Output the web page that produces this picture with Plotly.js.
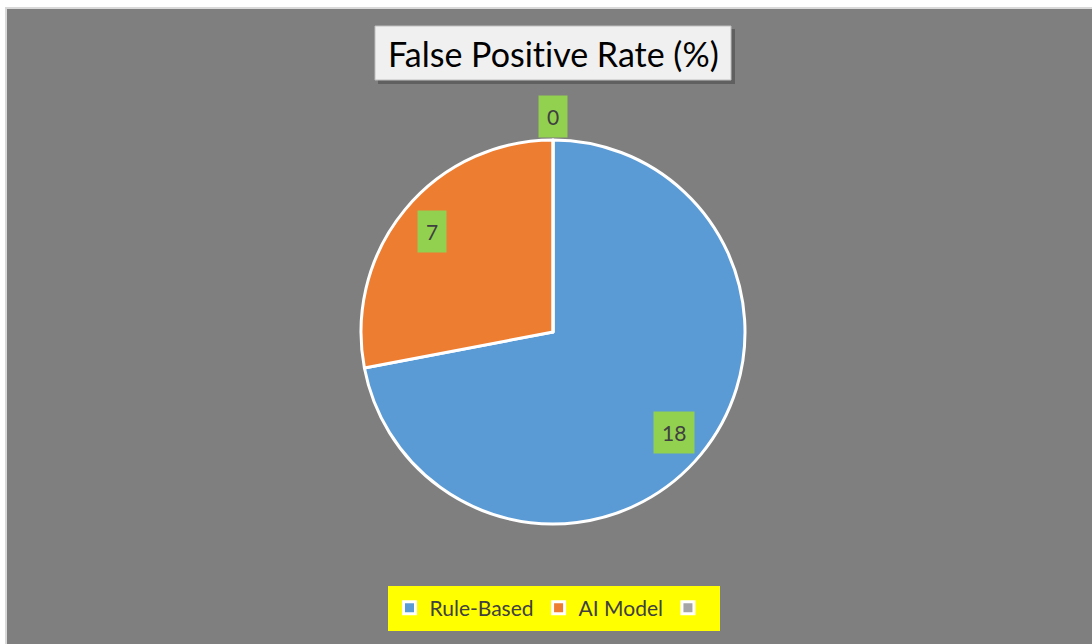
<!DOCTYPE html>
<html>
<head>
<meta charset="utf-8">
<script src="https://cdn.plot.ly/plotly-3.0.1.min.js"></script>
<style>html,body{margin:0;padding:0;background:#fff;}#chart{width:1092px;height:644px;}
svg text{font-variant-ligatures:none;font-feature-settings:"liga" 0;}</style>
</head>
<body>
<div id="chart"></div>
<script>
const categories = ['Rule-Based', 'AI Model', ' '];
const values = [18, 7, 0];
const sliceColors = ['#5b9bd5', '#ed7d31', '#a5a5a5'];
const titleText = 'False Positive Rate (%)';

const W = 1092, H = 644;
const cx = 553, cy = 332, R = 192;
const FONT = 'Lato, "Open Sans", sans-serif';

const trace = {
  type: 'pie',
  labels: categories,
  values: values,
  sort: false,
  direction: 'clockwise',
  rotation: 0,
  textinfo: 'none',
  hoverinfo: 'label+value',
  marker: {colors: sliceColors, line: {color: '#ffffff', width: 3}},
  domain: {x: [(cx - R) / W, (cx + R) / W], y: [(H - cy - R) / H, (H - cy + R) / H]},
  showlegend: true
};

// data labels: placed along each slice's mid-angle
const total = values.reduce((a, b) => a + b, 0);
let cum = 0;
const labelAnn = values.map((v, i) => {
  const mid = (cum + v / 2) / total * 2 * Math.PI;
  cum += v;
  const f = v === 0 ? 1.12 : 0.82;
  const x = cx + Math.sin(mid) * R * f;
  const y = cy - Math.cos(mid) * R * f;
  return {
    xref: 'paper', yref: 'paper', x: x / W, y: 1 - y / H,
    xanchor: 'center', yanchor: 'middle', showarrow: false,
    text: String(v), bgcolor: '#92d050', borderpad: 8,
    font: {family: FONT, size: 21, color: '#404040'}
  };
});

const px = x => x / W, py = y => 1 - y / H;

const layout = {
  width: W, height: H,
  margin: {l: 0, r: 0, t: 0, b: 0},
  paper_bgcolor: '#ffffff',
  shapes: [
    {type: 'rect', xref: 'paper', yref: 'paper', x0: px(6), x1: 1.01, y0: -0.01, y1: py(8),
     fillcolor: '#7f7f7f', line: {color: '#d9d9d9', width: 2}, layer: 'below'},
    // title shadow
    {type: 'rect', xref: 'paper', yref: 'paper', x0: px(378), x1: px(735), y0: py(84), y1: py(29),
     fillcolor: '#606060', line: {width: 0}, layer: 'below'},
    // title box
    {type: 'rect', xref: 'paper', yref: 'paper', x0: px(375), x1: px(731), y0: py(80), y1: py(26),
     fillcolor: '#f0f0f0', line: {color: '#bfbfbf', width: 1}, layer: 'below'},
    // legend background
    {type: 'rect', xref: 'paper', yref: 'paper', x0: px(388), x1: px(720), y0: py(631), y1: py(586),
     fillcolor: '#ffff00', line: {width: 0}, layer: 'below'}
  ],
  annotations: [
    {xref: 'paper', yref: 'paper', x: px(553), y: py(54), xanchor: 'center', yanchor: 'middle',
     showarrow: false, text: titleText, font: {family: FONT, size: 34, color: '#000000'}}
  ].concat(labelAnn),
  legend: {
    orientation: 'h', x: px(554), xanchor: 'center', y: py(608), yanchor: 'middle',
    bgcolor: 'rgba(0,0,0,0)', font: {family: FONT, size: 21, color: '#404040'},
    traceorder: 'normal'
  }
};

Plotly.newPlot('chart', [trace], layout, {displayModeBar: false});
</script>
</body>
</html>
